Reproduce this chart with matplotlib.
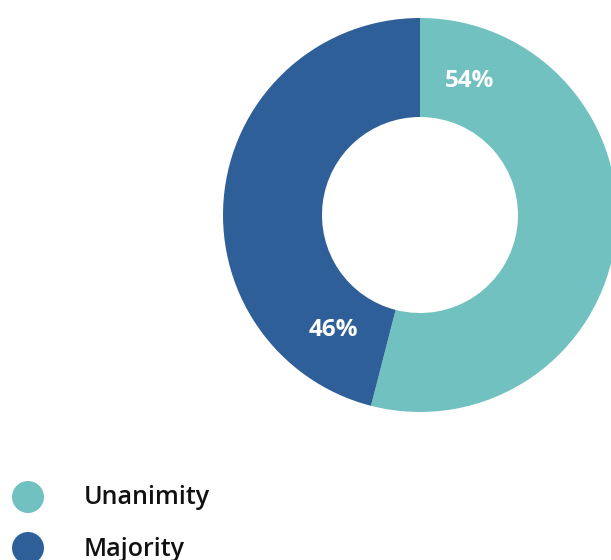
import matplotlib.pyplot as plt
from matplotlib.patches import Circle

labels = ["Unanimity", "Majority"]
shares = [54, 46]
colors = ["#71C1C0", "#2E5F98"]

plt.rcParams['font.family'] = ['Open Sans', 'DejaVu Sans']

fig = plt.figure(figsize=(6.11, 5.6), dpi=100)
ax = fig.add_axes([0, 0, 1, 1])

# donut, measured in pixel units (y up)
cx, cy, r = 420, 345, 197
wedges, _ = ax.pie(shares, colors=colors, startangle=90, counterclock=False,
                   center=(cx, cy), radius=r, frame=True,
                   wedgeprops=dict(width=99, linewidth=0))

ax.text(470, 560 - 81, f"{shares[0]}%", color="white", fontsize=17.5,
        fontweight="bold", ha="center", va="center")
ax.text(333, 560 - 330, f"{shares[1]}%", color="white", fontsize=17.5,
        fontweight="bold", ha="center", va="center")

# legend
for i, (lab, col) in enumerate(zip(labels, colors)):
    y = 560 - (497 + 51 * i)
    ax.add_patch(Circle((28, y), 16, color=col, linewidth=0))
    ax.text(84, y - 1, lab, fontsize=18, fontweight="semibold", color="#111111",
            va="center", ha="left")

ax.set_xlim(0, 611)
ax.set_ylim(0, 560)
ax.set_aspect("auto")
ax.axis("off")

plt.savefig("out.png", dpi=100)
